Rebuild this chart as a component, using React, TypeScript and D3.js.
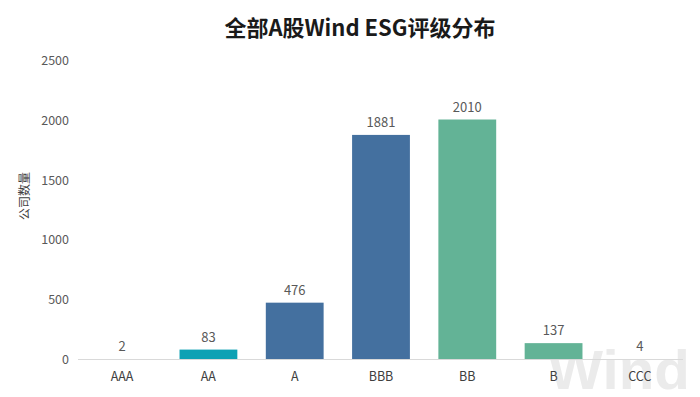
import React from "react";
import * as d3 from "d3";

const categories = ["AAA", "AA", "A", "BBB", "BB", "B", "CCC"];
const values = [2, 83, 476, 1881, 2010, 137, 4];
const colors = ["#0ea1b4", "#0ea1b4", "#44709f", "#44709f", "#63b396", "#63b396", "#63b396"];
const yTicks = [0, 500, 1000, 1500, 2000, 2500];
const title = "全部A股Wind ESG评级分布";
const yLabel = "公司数量";

const W = 700;
const H = 397;
const font = "'Noto Sans CJK SC', 'Noto Sans', sans-serif";

export default function App() {
  const x = d3.scaleBand<string>().domain(categories).range([79, 683]).paddingInner(0.33).paddingOuter(0.165);
  const y = d3.scaleLinear().domain([0, 2500]).range([359.5, 61]);
  return (
    <svg width={W} height={H} style={{ position: "absolute", left: 0, top: 0, background: "#fff" }}>
      <text x={548} y={389} textLength={142} lengthAdjust="spacingAndGlyphs" fontFamily="Arial, 'Liberation Sans', sans-serif" fontWeight="bold" fontSize={56} fill="#ebebeb">
        Wind
      </text>
      <text x={360} y={36} textAnchor="middle" fontFamily={font} fontWeight="bold" fontSize={22} fill="#1a1a1a">
        {title}
      </text>
      <text transform={`translate(29,${196}) rotate(-90)`} textAnchor="middle" fontFamily={font} fontSize={12} fill="#404040">
        {yLabel}
      </text>
      {yTicks.map((t) => (
        <text key={t} x={69} y={y(t)} dy="0.35em" textAnchor="end" fontFamily={font} fontSize={12.5} fill="#595959">
          {t}
        </text>
      ))}
      {categories.map((c, i) => (
        <g key={c}>
          <rect x={x(c)} y={y(values[i])} width={x.bandwidth()} height={y(0) - y(values[i])} fill={colors[i]} />
          <text x={(x(c) as number) + x.bandwidth() / 2} y={y(values[i]) - 8} textAnchor="middle" fontFamily={font} fontSize={13} fill="#595959">
            {values[i]}
          </text>
          <text x={(x(c) as number) + x.bandwidth() / 2} y={y(0) + 21} textAnchor="middle" fontFamily={font} fontSize={12.5} fill="#404040">
            {c}
          </text>
        </g>
      ))}
      <line x1={78} x2={683} y1={y(0)} y2={y(0)} stroke="#d9d9d9" strokeWidth={1} />
    </svg>
  );
}
